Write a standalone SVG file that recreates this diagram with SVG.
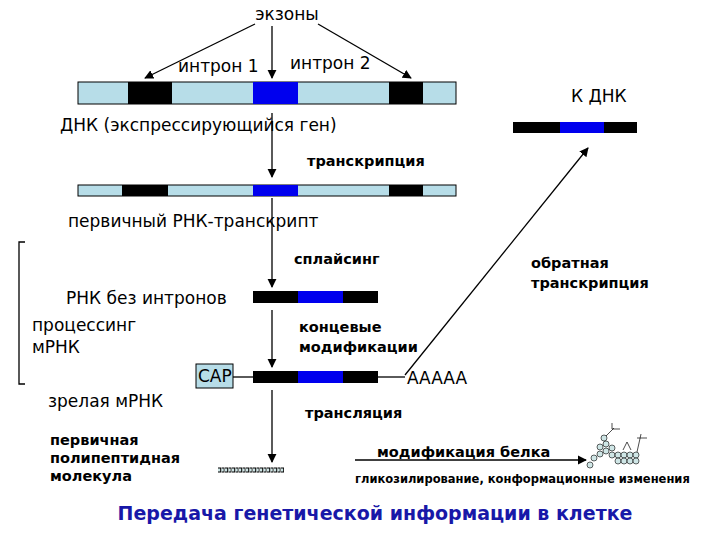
<svg xmlns="http://www.w3.org/2000/svg" width="720" height="540" viewBox="0 0 720 540">
<style>
.t{font-family:"DejaVu Sans",Verdana,sans-serif;font-size:17px;fill:#000}
.b{font-family:"DejaVu Sans",Verdana,sans-serif;font-size:14.5px;font-weight:bold;fill:#000}
.s{font-family:"DejaVu Sans",Verdana,sans-serif;font-size:11.5px;font-weight:bold;fill:#000}
.lb{fill:#b7dde8;stroke:#000;stroke-width:1}
.k{fill:#000}.bl{fill:#0000ee}
.ln{stroke:#000;stroke-width:1.3;fill:none}
.c{fill:#cfe6e6;stroke:#000;stroke-width:0.6}
</style>
<defs><marker id="a" viewBox="0 0 10 10" refX="9" refY="5" markerWidth="7" markerHeight="7" orient="auto"><path d="M0,0L10,5L0,10z"/></marker></defs>
<rect width="720" height="540" fill="#fff"/>
<g id="dna"><rect class="lb" x="78" y="82" width="378" height="22"/><rect class="k" x="128" y="82" width="44" height="22"/><rect class="bl" x="253" y="82" width="45" height="22"/><rect class="k" x="389" y="82" width="34" height="22"/>
<text class="t" x="60" y="131">ДНК (экспрессирующийся ген)</text></g>
<g id="labels"><text class="t" x="287" y="20" text-anchor="middle">экзоны</text><text class="t" x="178" y="72">интрон 1</text><text class="t" x="290" y="69">интрон 2</text></g>
<g id="pre"><rect class="lb" x="78" y="185" width="378" height="11"/><rect class="k" x="122" y="185" width="46" height="11"/><rect class="bl" x="253" y="185" width="45" height="11"/><rect class="k" x="389" y="185" width="34" height="11"/>
<text class="t" x="68" y="227">первичный РНК-транскрипт</text></g>
<g id="cdna"><rect class="k" x="513" y="122" width="124" height="11"/><rect class="bl" x="560" y="122" width="44" height="11"/><text class="t" x="571" y="102">К ДНК</text></g>
<g id="rna"><rect class="k" x="253" y="291" width="125" height="12"/><rect class="bl" x="298" y="291" width="45" height="12"/><text class="t" x="66" y="304">РНК без интронов</text></g>
<g id="mature"><rect class="lb" x="196" y="364" width="37" height="24"/><text class="t" x="198" y="382">CAP</text><rect class="k" x="253" y="371" width="125" height="12"/><rect class="bl" x="298" y="371" width="45" height="12"/><text class="t" x="407" y="384">AAAAA</text><text class="t" x="48" y="407">зрелая мРНК</text></g>
<g id="side"><path class="ln" d="M25,242H19V384H25"/><text class="t" x="32" y="331">процессинг</text><text class="t" x="32" y="353">мРНК</text></g>
<g id="steps"><text class="b" x="307" y="166">транскрипция</text><text class="b" x="294" y="264">сплайсинг</text><text class="b" x="531" y="268">обратная</text><text class="b" x="531" y="288">транскрипция</text><text class="b" x="299" y="332">концевые</text><text class="b" x="299" y="352">модификации</text><text class="b" x="305" y="418">трансляция</text><text class="b" x="377" y="457">модификация белка</text><text class="s" x="355" y="483">гликозилирование, конформационные изменения</text>
<text class="b" x="50" y="445">первичная</text><text class="b" x="50" y="463">полипептидная</text><text class="b" x="50" y="481">молекула</text></g>
<g id="connectors" class="ln">
<line x1="255" y1="24" x2="145" y2="78" marker-end="url(#a)"/><line x1="272" y1="26" x2="272" y2="78" marker-end="url(#a)"/><line x1="318" y1="24" x2="411" y2="78" marker-end="url(#a)"/>
<line x1="272" y1="113" x2="272" y2="177" marker-end="url(#a)"/><line x1="272" y1="198" x2="272" y2="287" marker-end="url(#a)"/><line x1="272" y1="310" x2="272" y2="367" marker-end="url(#a)"/><line x1="272" y1="390" x2="272" y2="462" marker-end="url(#a)"/>
<line x1="405" y1="375" x2="588" y2="148" marker-end="url(#a)"/><line x1="355" y1="460" x2="586" y2="460" marker-end="url(#a)"/>
<line x1="233" y1="377" x2="253" y2="377"/><line x1="378" y1="377" x2="405" y2="377"/></g>
<g id="chain"><path d="M218,470h66" stroke="#000" stroke-width="5" stroke-dasharray="3,0.5"/><path d="M218,470h66" stroke="#cfe6e6" stroke-width="3" stroke-dasharray="2.2,1.3"/></g>
<g id="protein"><circle class="c" cx="590" cy="465" r="3"/><circle class="c" cx="594" cy="458" r="3"/><circle class="c" cx="600" cy="454" r="3"/><circle class="c" cx="600" cy="447" r="3"/><circle class="c" cx="606" cy="444" r="3"/><circle class="c" cx="606" cy="451" r="3"/><circle class="c" cx="612" cy="448" r="3"/><circle class="c" cx="612" cy="455" r="3"/><circle class="c" cx="618" cy="455" r="3"/><circle class="c" cx="624" cy="455" r="3"/><circle class="c" cx="630" cy="455" r="3"/><circle class="c" cx="636" cy="455" r="3"/><circle class="c" cx="618" cy="461" r="3"/><circle class="c" cx="624" cy="461" r="3"/><circle class="c" cx="630" cy="461" r="3"/><circle class="c" cx="636" cy="461" r="3"/><circle class="c" cx="604" cy="438" r="3"/>
<path d="M606,436l8,-8m-2,-5v6h8M637,452l4,-18m-4,4l10,0m-24,12l4,-8l4,8" stroke="#000" stroke-width="0.7" fill="none"/></g>
<text x="375" y="520" text-anchor="middle" font-family="DejaVu Sans,Verdana,sans-serif" font-size="19" font-weight="bold" fill="#1818a8">Передача генетической информации в клетке</text>
</svg>
